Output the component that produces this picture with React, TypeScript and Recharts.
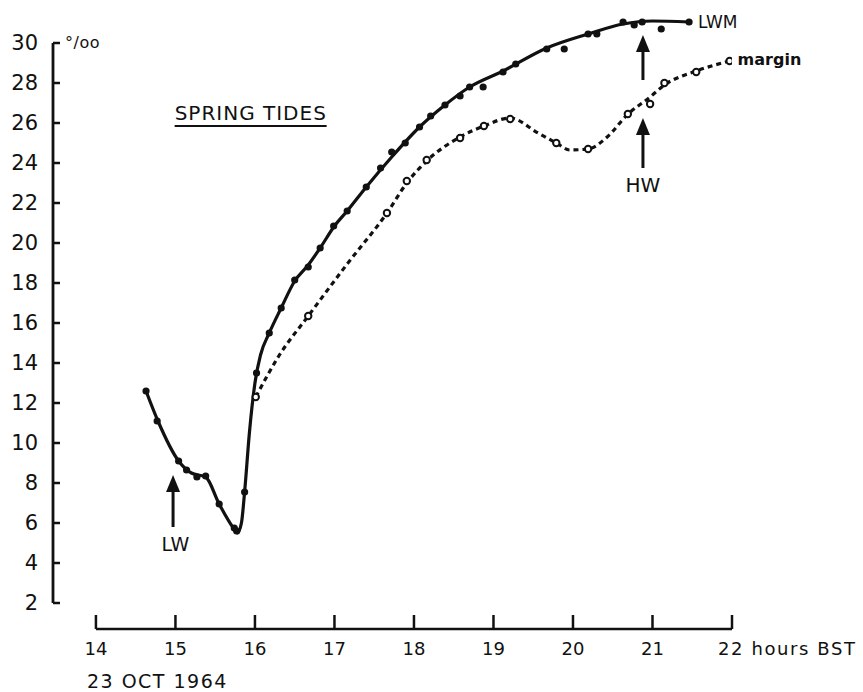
import {
  ComposedChart,
  Line,
  Scatter,
  XAxis,
  YAxis,
  ReferenceLine,
  ReferenceDot,
} from 'recharts'

// hours BST, 23 Oct 1964
const hourTicks = [14, 15, 16, 17, 18, 19, 20, 21, 22]
const salinityTicks = [2, 4, 6, 8, 10, 12, 14, 16, 18, 20, 22, 24, 26, 28, 30]

// LWM readings (filled dots)
const lwmReadings = [
  { t: 14.63, s: 12.6 },
  { t: 14.77, s: 11.1 },
  { t: 15.04, s: 9.1 },
  { t: 15.14, s: 8.65 },
  { t: 15.27, s: 8.3 },
  { t: 15.38, s: 8.35 },
  { t: 15.55, s: 6.95 },
  { t: 15.74, s: 5.75 },
  { t: 15.77, s: 5.6 },
  { t: 15.87, s: 7.55 },
  { t: 16.02, s: 13.5 },
  { t: 16.18, s: 15.5 },
  { t: 16.33, s: 16.75 },
  { t: 16.5, s: 18.15 },
  { t: 16.67, s: 18.8 },
  { t: 16.82, s: 19.75 },
  { t: 16.99, s: 20.85 },
  { t: 17.16, s: 21.6 },
  { t: 17.4, s: 22.8 },
  { t: 17.58, s: 23.75 },
  { t: 17.72, s: 24.55 },
  { t: 17.89, s: 25.0 },
  { t: 18.07, s: 25.8 },
  { t: 18.21, s: 26.35 },
  { t: 18.39, s: 26.9 },
  { t: 18.58, s: 27.35 },
  { t: 18.7, s: 27.8 },
  { t: 18.87, s: 27.8 },
  { t: 19.12, s: 28.55 },
  { t: 19.28, s: 28.95 },
  { t: 19.67, s: 29.7 },
  { t: 19.89, s: 29.7 },
  { t: 20.19, s: 30.45 },
  { t: 20.3, s: 30.45 },
  { t: 20.63, s: 31.05 },
  { t: 20.77, s: 30.9 },
  { t: 20.87, s: 31.05 },
  { t: 21.11, s: 30.7 },
  { t: 21.46, s: 31.05 },
]

// LWM curve as drawn through the readings
const lwmCurve = [
  { t: 14.63, s: 12.6 },
  { t: 14.78, s: 11.1 },
  { t: 15.04, s: 9.1 },
  { t: 15.2, s: 8.5 },
  { t: 15.38, s: 8.3 },
  { t: 15.55, s: 6.95 },
  { t: 15.72, s: 5.8 },
  { t: 15.78, s: 5.5 },
  { t: 15.83, s: 6.0 },
  { t: 15.87, s: 7.55 },
  { t: 15.93, s: 10.5 },
  { t: 16.0, s: 13.0 },
  { t: 16.07, s: 14.4 },
  { t: 16.18, s: 15.5 },
  { t: 16.33, s: 16.75 },
  { t: 16.5, s: 18.1 },
  { t: 16.67, s: 18.9 },
  { t: 16.82, s: 19.75 },
  { t: 17.0, s: 20.85 },
  { t: 17.16, s: 21.6 },
  { t: 17.4, s: 22.8 },
  { t: 17.72, s: 24.3 },
  { t: 18.07, s: 25.8 },
  { t: 18.39, s: 26.9 },
  { t: 18.7, s: 27.8 },
  { t: 19.12, s: 28.6 },
  { t: 19.67, s: 29.75 },
  { t: 20.19, s: 30.45 },
  { t: 20.63, s: 30.95 },
  { t: 21.0, s: 31.1 },
  { t: 21.46, s: 31.05 },
]

// margin readings (open circles)
const marginReadings = [
  { t: 16.01, s: 12.3 },
  { t: 16.67, s: 16.35 },
  { t: 17.66, s: 21.5 },
  { t: 17.91, s: 23.1 },
  { t: 18.16, s: 24.15 },
  { t: 18.58, s: 25.25 },
  { t: 18.88, s: 25.85 },
  { t: 19.21, s: 26.2 },
  { t: 19.79, s: 25.0 },
  { t: 20.19, s: 24.7 },
  { t: 20.69, s: 26.45 },
  { t: 20.97, s: 26.95 },
  { t: 21.15, s: 28.0 },
  { t: 21.55, s: 28.55 },
  { t: 21.97, s: 29.1 },
]

// margin curve as drawn
const marginCurve = [
  { t: 16.01, s: 12.3 },
  { t: 16.3, s: 14.35 },
  { t: 16.67, s: 16.35 },
  { t: 17.16, s: 18.95 },
  { t: 17.66, s: 21.5 },
  { t: 17.91, s: 23.0 },
  { t: 18.16, s: 24.1 },
  { t: 18.58, s: 25.3 },
  { t: 18.88, s: 25.85 },
  { t: 19.21, s: 26.25 },
  { t: 19.56, s: 25.5 },
  { t: 19.79, s: 25.0 },
  { t: 19.96, s: 24.65 },
  { t: 20.19, s: 24.7 },
  { t: 20.43, s: 25.3 },
  { t: 20.68, s: 26.4 },
  { t: 20.97, s: 27.3 },
  { t: 21.15, s: 27.9 },
  { t: 21.55, s: 28.6 },
  { t: 21.97, s: 29.1 },
]

const INK = '#111'
const FONT = '"DejaVu Sans", sans-serif'
const X_MIN = 13.46
const Y_MIN = 0.7

function HourTick({ x, y, payload }: any) {
  const v = payload.value
  return (
    <g>
      <line x1={x} y1={y} x2={x} y2={y - 14} stroke={INK} strokeWidth={2.5} />
      {v === 22 ? (
        <text x={x - 14} y={y + 26} fontSize={18} fontFamily={FONT} fill={INK} letterSpacing={1.6}>
          22 hours BST
        </text>
      ) : (
        <text x={x} y={y + 26} textAnchor="middle" fontSize={18} fontFamily={FONT} fill={INK}>
          {v}
        </text>
      )}
      {v === 14 && (
        <text x={x - 9} y={y + 59} fontSize={19} fontFamily={FONT} fill={INK} letterSpacing={1.5}>
          23 OCT 1964
        </text>
      )}
    </g>
  )
}

function SalinityTick({ x, y, payload }: any) {
  const v = payload.value
  return (
    <g>
      <line x1={x} y1={y} x2={x + 7} y2={y} stroke={INK} strokeWidth={2.5} />
      <text x={x - 15} y={y + 7} textAnchor="end" fontSize={21} fontFamily={FONT} fill={INK}>
        {v}
      </text>
      {v === 30 && (
        <text x={x + 12} y={y + 5} fontSize={16} fontFamily={FONT} fill={INK} letterSpacing={0.5}>
          °/oo
        </text>
      )}
    </g>
  )
}

const filledDot = ({ cx, cy }: any) => <circle cx={cx} cy={cy} r={3.6} fill={INK} />
const openDot = ({ cx, cy }: any) => (
  <circle cx={cx} cy={cy} r={3.2} fill="#fff" stroke={INK} strokeWidth={2} />
)

const arrowHead = ({ cx, cy }: any) => (
  <polygon points={`${cx},${cy} ${cx - 7},${cy + 17} ${cx + 7},${cy + 17}`} fill={INK} />
)

const label =
  (text: string, dx: number, dy: number, size: number, anchor = 'start', weight = 'normal') =>
  ({ cx, cy }: any) => (
    <text
      x={cx + dx}
      y={cy + dy}
      textAnchor={anchor}
      fontSize={size}
      fontWeight={weight}
      fontFamily={FONT}
      fill={INK}
    >
      {text}
    </text>
  )

const springTides = ({ cx, cy }: any) => (
  <g>
    <text x={cx} y={cy} fontSize={20} fontFamily={FONT} fill={INK} letterSpacing={1}>
      SPRING  TIDES
    </text>
    <line x1={cx} y1={cy + 6} x2={cx + 152} y2={cy + 6} stroke={INK} strokeWidth={2} />
  </g>
)

export default function App() {
  return (
    <div style={{ width: 863, height: 692, background: '#fff' }}>
      <style>{'body{margin:0}'}</style>
      <ComposedChart
        width={863}
        height={692}
        margin={{ top: 13, right: 131, left: 0, bottom: 0 }}
      >
        <XAxis
          type="number"
          dataKey="t"
          domain={[X_MIN, 22]}
          allowDataOverflow
          ticks={hourTicks}
          interval={0}
          height={63}
          axisLine={false}
          tickLine={false}
          tickSize={0}
          tickMargin={0}
          tick={<HourTick />}
        />
        <YAxis
          type="number"
          dataKey="s"
          domain={[Y_MIN, 31.5]}
          allowDataOverflow
          ticks={salinityTicks}
          interval={0}
          width={53}
          axisLine={false}
          tickLine={false}
          tickSize={0}
          tickMargin={0}
          tick={<SalinityTick />}
        />

        {/* axes as drawn: y from 2 to 30, x from 14 to 22 */}
        <ReferenceLine
          segment={[{ x: X_MIN, y: 2 }, { x: X_MIN, y: 30 }]}
          stroke={INK}
          strokeWidth={2.8}
          ifOverflow="visible"
        />
        <ReferenceLine
          segment={[{ x: 14, y: Y_MIN }, { x: 22, y: Y_MIN }]}
          stroke={INK}
          strokeWidth={2.5}
          ifOverflow="visible"
        />

        <Line
          data={marginCurve}
          dataKey="s"
          type="monotone"
          stroke={INK}
          strokeWidth={3.2}
          strokeDasharray="5 4"
          dot={false}
          isAnimationActive={false}
        />
        <Line
          data={lwmCurve}
          dataKey="s"
          type="monotone"
          stroke={INK}
          strokeWidth={3.2}
          dot={false}
          isAnimationActive={false}
        />
        <Scatter data={lwmReadings} dataKey="s" shape={filledDot} isAnimationActive={false} />
        <Scatter data={marginReadings} dataKey="s" shape={openDot} isAnimationActive={false} />

        {/* arrows */}
        <ReferenceLine segment={[{ x: 14.97, y: 7.6 }, { x: 14.97, y: 5.8 }]} stroke={INK} strokeWidth={3} />
        <ReferenceDot x={14.97} y={8.4} shape={arrowHead} />
        <ReferenceLine segment={[{ x: 20.88, y: 25.5 }, { x: 20.88, y: 23.75 }]} stroke={INK} strokeWidth={3} />
        <ReferenceDot x={20.88} y={26.25} shape={arrowHead} />
        <ReferenceLine segment={[{ x: 20.88, y: 29.6 }, { x: 20.88, y: 28.15 }]} stroke={INK} strokeWidth={3} />
        <ReferenceDot x={20.88} y={30.4} shape={arrowHead} />

        {/* text */}
        <ReferenceDot x={14.99} y={26.15} shape={springTides} />
        <ReferenceDot x={15.0} y={0.7 + 3.9} shape={label('LW', 0, 0, 19, 'middle')} />
        <ReferenceDot x={20.88} y={22.55} shape={label('HW', 0, 0, 20, 'middle')} />
        <ReferenceDot x={21.46} y={31.05} shape={label('LWM', 9, 6, 17)} />
        <ReferenceDot x={21.97} y={29.1} shape={label('margin', 8, 4, 16, 'start', 'bold')} />
      </ComposedChart>
    </div>
  )
}
